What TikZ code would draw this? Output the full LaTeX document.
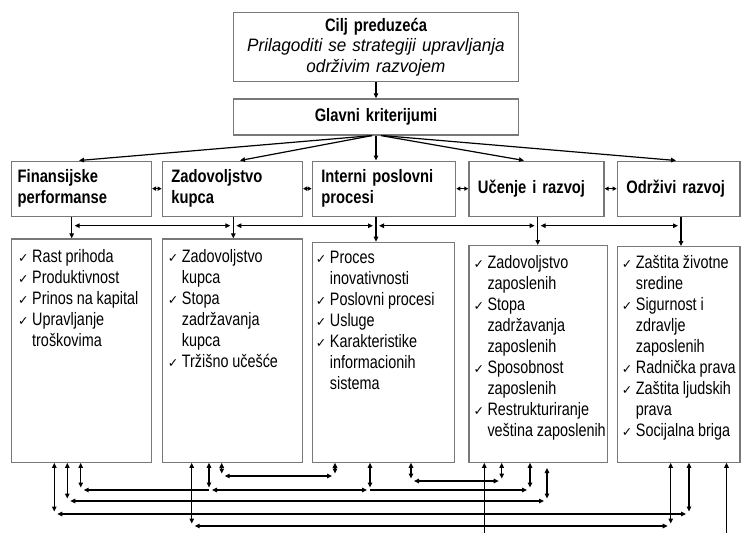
\documentclass[tikz,border=0pt]{standalone}
\usepackage{fontspec}
\setmainfont{Liberation Sans}[FakeStretch=0.8,
  BoldFeatures={FakeStretch=0.82},
  ItalicFeatures={FakeStretch=0.95}]
\newfontfamily\chkfont{DejaVu Sans}
\usetikzlibrary{arrows.meta,calc}
\definecolor{bgray}{RGB}{120,120,120}
\newcommand\ck{\rule{0pt}{15pt}\makebox[14pt][l]{\chkfont\fontsize{12.5}{12.5}\selectfont ✓}}
\newcommand\nck{\rule{0pt}{15pt}\hspace*{14pt}}
\newcommand\boldsp{\spaceskip 3.6pt\relax}
\newcommand\regsp{\spaceskip 3.8pt\relax}
\begin{document}
\begin{tikzpicture}[x=1pt,y=-1pt,
  >={Triangle[length=5pt,width=4.5pt]},
  boxs/.style={draw=bgray,line width=1.3pt,anchor=north west},
  catb/.style={boxs,inner ysep=0pt,minimum height=55pt,align=left,font=\bfseries\fontsize{18}{21}\selectfont\boldsp},
  detb/.style={boxs,inner sep=0pt},
  txt/.style={anchor=north west,inner sep=0pt,align=left,font=\fontsize{18}{21}\selectfont\regsp},
  con/.style={line width=1.2pt,black},
  tinyarr/.style={{Triangle[length=4pt,width=4pt]}-{Triangle[length=4pt,width=4pt]}}
]
\useasboundingbox (0,0) rectangle (742,533);

% top boxes
\node[boxs,align=center,inner xsep=5pt,inner ysep=0pt,text width=274.7pt,minimum height=69.3pt,font=\fontsize{18}{20.5}\selectfont\regsp] (goal) at (233,11.7)
  {{\bfseries Cilj preduzeća}\\{\itshape Prilagoditi se strategiji upravljanja}\\{\itshape održivim razvojem}};
\node[boxs,align=center,inner xsep=5pt,inner ysep=0pt,text width=274.7pt,minimum height=36pt,font=\bfseries\fontsize{18}{21}\selectfont\boldsp] (glav) at (233,98.3) {Glavni kriterijumi};

% category boxes
\node[catb,inner xsep=6pt,text width=127.7pt] (c1) at (11,160.5) {Finansijske\\performanse};
\node[catb,inner xsep=9pt,text width=122pt] (c2) at (161.7,160.5) {Zadovoljstvo\\kupca};
\node[catb,inner xsep=9pt,text width=125.3pt] (c3) at (311.7,160.5) {Interni poslovni\\procesi};
\node[catb,inner xsep=9pt,text width=117pt] (c4) at (468.3,160.5) {Učenje i razvoj};
\node[catb,inner xsep=9pt,text width=104.6pt] (c5) at (616.7,160.5) {Održivi razvoj};

% detail boxes
\node[detb,minimum width=139.7pt,minimum height=223.2pt] (d1) at (11,238.3) {};
\node[detb,minimum width=140pt,minimum height=223.2pt] (d2) at (161.7,238.3) {};
\node[detb,minimum width=142.3pt,minimum height=219.8pt] (d3) at (311.7,241.7) {};
\node[detb,minimum width=138.7pt,minimum height=216.5pt] (d4) at (468.3,245) {};
\node[detb,minimum width=122.6pt,minimum height=215.5pt] (d5) at (616.7,246) {};

\node[txt] (t1) at ($(d1.north west)+(7,8.7)$) {\ck Rast prihoda\\\ck Produktivnost\\\ck Prinos na kapital\\\ck Upravljanje\\\nck troškovima};
\node[txt] (t2) at ($(d2.north west)+(6,8.7)$) {\ck Zadovoljstvo\\\nck kupca\\\ck Stopa\\\nck zadržavanja\\\nck kupca\\\ck Tržišno učešće};
\node[txt] (t3) at ($(d3.north west)+(4,6.8)$) {\ck Proces\\\nck inovativnosti\\\ck Poslovni procesi\\\ck Usluge\\\ck Karakteristike\\\nck informacionih\\\nck sistema};
\node[txt] (t4) at ($(d4.north west)+(5,8.3)$) {\ck Zadovoljstvo\\\nck zaposlenih\\\ck Stopa\\\nck zadržavanja\\\nck zaposlenih\\\ck Sposobnost\\\nck zaposlenih\\\ck Restrukturiranje\\\nck veština zaposlenih};
\node[txt] (t5) at ($(d5.north west)+(5,7)$) {\ck Zaštita životne\\\nck sredine\\\ck Sigurnost i\\\nck zdravlje\\\nck zaposlenih\\\ck Radnička prava\\\ck Zaštita ljudskih\\\nck prava\\\ck Socijalna briga};

% goal -> glavni
\draw[con,->] (goal.south) -- (glav.north);
% glavni -> categories
\draw[con,->] ([xshift=-4pt]glav.south) -- (79,0 |- c1.north);
\draw[con,->] ([xshift=-4pt]glav.south) -- (240,0 |- c2.north);
\draw[con,->] (376,0 |- glav.south) -- (376,0 |- c3.north);
\draw[con,->] ([xshift=5pt]glav.south) -- (524,0 |- c4.north);
\draw[con,->] ([xshift=7pt]glav.south) -- (676,0 |- c5.north);
% between categories
\draw[con,tinyarr] (c1.east) -- (c2.west);
\draw[con,tinyarr] (c2.east) -- (c3.west);
\draw[con,tinyarr] (c3.east) -- (c4.west);
\draw[con,tinyarr] (c4.east) -- (c5.west);

% categories -> details
\coordinate (h1) at (71.7,225.7);
\coordinate (h2) at (233.3,225.7);
\coordinate (h3) at (376,225.7);
\coordinate (h4) at (537.7,225.7);
\coordinate (h5) at (681,225.7);
\draw[con,->] (h1 |- c1.south) -- (h1 |- d1.north);
\draw[con,->] (h2 |- c2.south) -- (h2 |- d2.north);
\draw[con,->] (h3 |- c3.south) -- (h3 |- d3.north);
\draw[con,->] (h4 |- c4.south) -- (h4 |- d4.north);
\draw[con,->] (h5 |- c5.south) -- (h5 |- d5.north);
\draw[con,<->,shorten <=3pt,shorten >=3pt] (h1) -- (h2);
\draw[con,<->,shorten <=3pt,shorten >=3pt] (h2) -- (h3);
\draw[con,<->,shorten <=3pt,shorten >=3pt] (h3) -- (h4);
\draw[con,<->,shorten <=3pt,shorten >=3pt] (h4) -- (h5);

% bottom connectors
\tikzset{vv/.style={con,<->,shorten >=2.5pt},hh/.style={con,<->,shorten <=3pt,shorten >=3pt}}
% loop 1, y=514
\coordinate (a1) at (54.3,514); \coordinate (b1) at (689,514);
\draw[vv] (a1 |- d1.south) -- (a1);
\draw[vv] (b1 |- d5.south) -- (b1);
\draw[hh] (a1) -- (b1);
% loop 2, y=501
\coordinate (a2) at (67.3,501); \coordinate (b2) at (547,501); \coordinate (b2t) at (547,468);
\draw[vv] (a2 |- d1.south) -- (a2);
\draw[vv] (b2t) -- (b2);
\draw[hh] (a2) -- (b2);
% loop 3, y=490
\coordinate (a3) at (80.7,490); \coordinate (m3) at (209,490); \coordinate (n3) at (370,490); \coordinate (b3) at (530,490);
\draw[vv] (a3 |- d1.south) -- (a3);
\draw[vv] (m3 |- d2.south) -- (m3);
\draw[vv] (n3 |- d3.south) -- (n3);
\draw[vv] (b3 |- d4.south) -- (b3);
\draw[con,<-,shorten <=3pt] (a3) -- (m3);
\draw[hh] (m3) -- (n3);
\draw[con,->,shorten >=3pt] (n3) -- (b3);
% loop 4, y=526
\coordinate (a4) at (191.7,526); \coordinate (b4) at (670.7,526);
\draw[vv] (a4 |- d2.south) -- (a4);
\draw[vv] (b4 |- d5.south) -- (b4);
\draw[hh] (a4) -- (b4);
% loop 5, y=476
\coordinate (a5) at (221.7,476); \coordinate (b5) at (335,476);
\draw[vv] (a5 |- d2.south) -- (a5);
\draw[vv] (b5 |- d3.south) -- (b5);
\draw[hh] (a5) -- (b5);
% loop 6, y=481
\coordinate (a6) at (411,481); \coordinate (b6) at (501.7,481);
\draw[vv] (a6 |- d3.south) -- (a6);
\draw[vv] (b6 |- d4.south) -- (b6);
\draw[hh] (a6) -- (b6);
% open lines
\coordinate (e1) at (484.3,533); \coordinate (e2) at (726.5,533);
\draw[con,<-] (e1 |- d4.south) -- (e1);
\draw[con,<-] (e2 |- d5.south) -- (e2);
\end{tikzpicture}
\end{document}
